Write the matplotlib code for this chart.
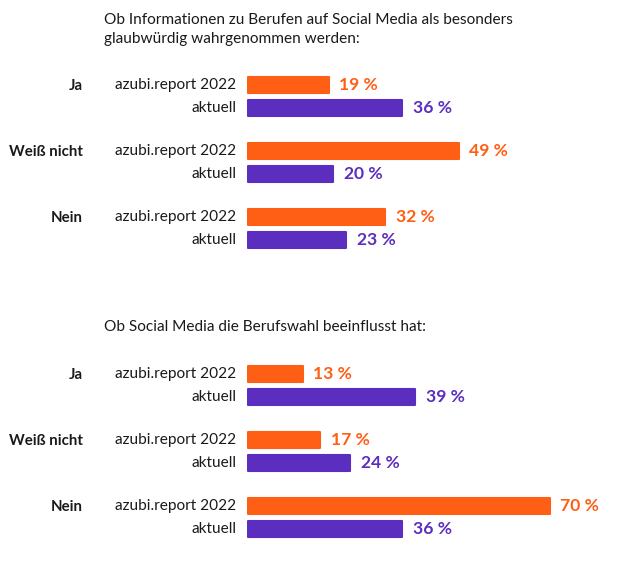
import matplotlib
matplotlib.use("Agg")
import matplotlib.pyplot as plt

plt.rcParams['font.family'] = ['Lato', 'DejaVu Sans']

categories = ["Ja", "Weiß nicht", "Nein"]
series = ["azubi.report 2022", "aktuell"]
titles = [
    "Ob Informationen zu Berufen auf Social Media als besonders\nglaubwürdig wahrgenommen werden:",
    "Ob Social Media die Berufswahl beeinflusst hat:",
]
values_2022 = [[19, 49, 32], [13, 17, 70]]
values_now = [[36, 20, 23], [39, 24, 36]]

colors = ["#FF5F15", "#5C2EBF"]
W, H = 618, 569
fig = plt.figure(figsize=(W / 100, H / 100), dpi=100)

px_per_pct = (550 - 247) / 70.0
unit = 23.0  # px per y unit
group_step = 2.87
bar_h = 16 / unit

panel_y0 = [84.5, 373.5]  # pixel of first bar center
title_y = [13, 320]

for p in range(2):
    top_px = panel_y0[p] - 15
    bot_px = panel_y0[p] + 2 * group_step * unit + unit + 15
    ax = fig.add_axes([247 / W, 1 - bot_px / H, (W - 247) / W, (bot_px - top_px) / H])
    xmax = (W - 247) / px_per_pct
    ax.set_xlim(0, xmax)
    ax.set_ylim((bot_px - panel_y0[p]) / unit, (top_px - panel_y0[p]) / unit)
    ax.axis("off")
    for g, cat in enumerate(categories):
        for s, vals in enumerate([values_2022[p], values_now[p]]):
            y = g * group_step + s
            ax.barh(y, vals[g] - 1 / px_per_pct, left=0.5 / px_per_pct, height=bar_h,
                    color=colors[s], edgecolor=colors[s],
                    linewidth=1.5, joinstyle="round")
            ax.text(vals[g] + 10 / px_per_pct, y + 0.03, f"{vals[g]} %", color=colors[s],
                    fontsize=12.6, fontweight="bold", va="center", ha="left")
            ax.text(-11 / px_per_pct, y + 0.03, series[s], color="#1a1a1a", fontsize=11.1,
                    va="center", ha="right")
        ax.text(-164 / px_per_pct, g * group_step + 0.05, cat, color="#1a1a1a", fontsize=10.8,
                fontweight="bold", va="center", ha="right")
    fig.text(104 / W, 1 - title_y[p] / H, titles[p], fontsize=11.1, color="#1a1a1a",
             va="top", ha="left", linespacing=1.45)

fig.savefig("out.png", dpi=100, facecolor="white")
